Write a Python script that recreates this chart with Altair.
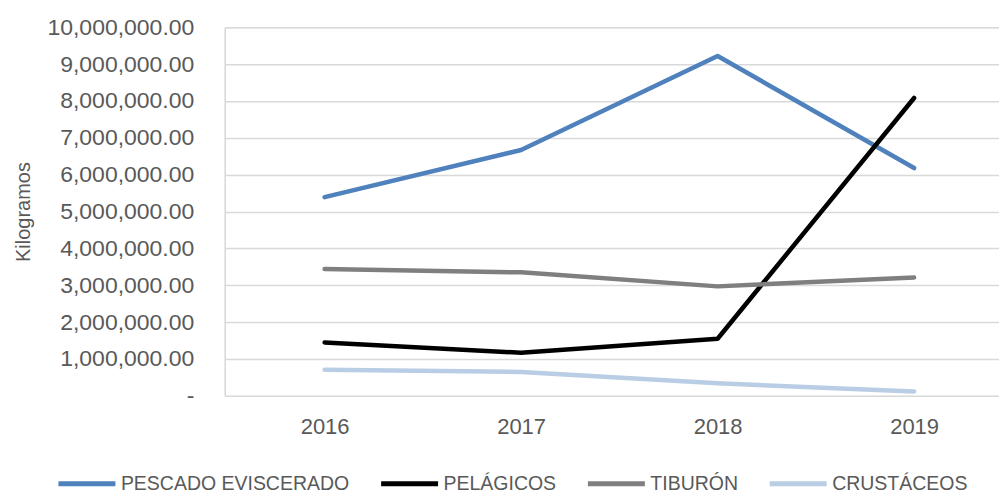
import altair as alt
import pandas as pd

years = [2016, 2017, 2018, 2019]
series_names = ["PESCADO EVISCERADO", "PELÁGICOS", "TIBURÓN", "CRUSTÁCEOS"]
pescado = [5390000, 6670000, 9220000, 6180000]
pelagicos = [1450000, 1170000, 1550000, 8080000]
tiburon = [3440000, 3350000, 2970000, 3210000]
crustaceos = [710000, 650000, 340000, 120000]
colors = ["#4f81bd", "#000000", "#7f7f7f", "#b9cde5"]

rows = []
for name, vals in zip(series_names, [pescado, pelagicos, tiburon, crustaceos]):
    for y, v in zip(years, vals):
        rows.append({"Año": y, "Serie": name, "Kilogramos": v})
df = pd.DataFrame(rows)

FONT = "Liberation Sans"
GRAY = "#595959"

chart = alt.Chart(df).mark_line(strokeWidth=4.5, strokeCap="round", strokeJoin="round").encode(
    x=alt.X("Año:Q",
            scale=alt.Scale(domain=[2015.492, 2019.432], nice=False, zero=False),
            axis=alt.Axis(values=years, format="d", title=None, grid=False, ticks=False,
                          domain=False, labelFontSize=22, labelColor=GRAY, labelFont=FONT,
                          labelPadding=21)),
    y=alt.Y("Kilogramos:Q",
            scale=alt.Scale(domain=[0, 10000000], nice=False),
            axis=alt.Axis(values=list(range(0, 10000001, 1000000)),
                          labelExpr="datum.value == 0 ? '-' : format(datum.value, ',.2f')",
                          title="Kilogramos", titleFontSize=20, titleFont=FONT,
                          titleColor=GRAY, titleFontWeight="normal", titlePadding=13,
                          labelFontSize=23, labelColor=GRAY, labelFont=FONT,
                          labelPadding=31, ticks=False, domain=True,
                          domainColor="#d9d9d9", domainWidth=1.5,
                          gridColor="#d9d9d9", gridWidth=1.5)),
    color=alt.Color("Serie:N",
                    scale=alt.Scale(domain=series_names, range=colors),
                    sort=series_names,
                    legend=alt.Legend(title=None, orient="none", direction="horizontal",
                                      columns=4, legendX=-169, legendY=426,
                                      symbolType="stroke", symbolSize=3249,
                                      symbolStrokeWidth=5, labelFontSize=19.5,
                                      labelFont=FONT, labelColor=GRAY, labelLimit=400,
                                      columnPadding=21, labelOffset=3)),
).properties(
    width=775, height=369,
    autosize=alt.AutoSizeParams(type="none"),
    padding={"left": 217, "top": 19, "right": 0, "bottom": 100},
).configure_view(stroke=None).configure(background="white")

chart.save("out.html", embed_options={"renderer": "svg", "actions": False})
